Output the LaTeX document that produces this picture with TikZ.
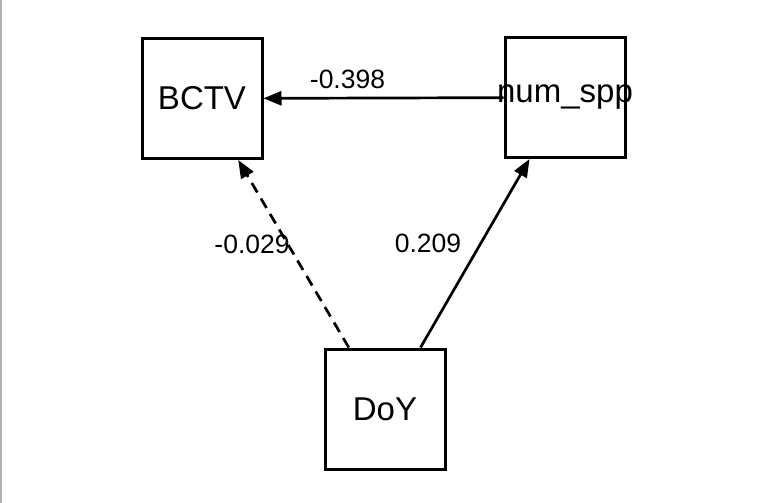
\documentclass[tikz,border=0pt]{standalone}
\usepackage{fontspec}
\setmainfont{Liberation Sans}
\usepackage{tikz}
\usetikzlibrary{arrows.meta, positioning}

\begin{document}
\begin{tikzpicture}[
  x=1pt, y=-1pt,
  var/.style={rectangle, draw=black, line width=3pt, minimum width=120pt, minimum height=120pt,
    inner sep=0pt, font=\fontsize{33}{36}\selectfont},
  arr/.style={-{Triangle[length=18pt,width=14pt]}, line width=2.7pt, black},
  coef/.style={inner sep=0pt, font=\fontsize{26.5}{30}\selectfont},
  dashedarr/.style={arr, dash pattern=on 11pt off 7pt}
]
\useasboundingbox (0,0) rectangle (761,503);
\draw[gray!60, line width=1.5pt] (0.75,0) -- (0.75,503);

\node[var] (bctv) at (202,98.5) {\makebox[0pt]{BCTV}};
\node[var] (num)  at (565,97.5) {\makebox[0pt]{num\_spp}};
\node[var] (doy)  at (385,409) {\makebox[0pt]{DoY}};

\draw[arr] (num) -- node[coef, pos=0.65, above=8pt] {-0.398} (bctv);
\draw[dashedarr] (doy) -- node[coef, pos=0.55, anchor=east, xshift=3pt] {-0.029} (bctv);
\draw[arr] (doy) -- node[coef, pos=0.55, anchor=east, xshift=-18pt] {0.209} (num);
\end{tikzpicture}
\end{document}
